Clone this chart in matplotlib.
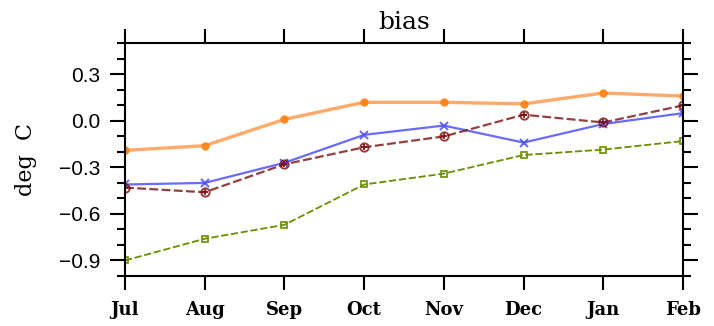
import numpy as np
import matplotlib.pyplot as plt
from matplotlib.ticker import MultipleLocator

plt.rcParams['font.family'] = ['DejaVu Serif']

months = ['Jul', 'Aug', 'Sep', 'Oct', 'Nov', 'Dec', 'Jan', 'Feb']
orange_vals = [-0.19, -0.16, 0.01, 0.12, 0.12, 0.11, 0.18, 0.16]
blue_vals = [-0.41, -0.40, -0.27, -0.09, -0.03, -0.14, -0.02, 0.05]
red_vals = [-0.43, -0.46, -0.28, -0.17, -0.10, 0.04, -0.01, 0.10]
green_vals = [-0.90, -0.76, -0.67, -0.41, -0.34, -0.22, -0.185, -0.13]
ytick_vals = [-0.9, -0.6, -0.3, 0.0, 0.3]

fig = plt.figure(figsize=(7.14, 3.26), dpi=100)
ax = fig.add_axes([0.175, 0.1534, 0.7816, 0.7136])
x = np.arange(len(months))

# four series, NCL-ish look
ax.plot(x, orange_vals, color='#ff9a50', lw=2.4, alpha=0.85, marker='o', ms=5, mfc='#ff7f0e', mec='#ff7f0e')
ax.plot(x, blue_vals, color='#5050ff', lw=1.6, alpha=0.85, marker='x', ms=6, mew=1.5)
ax.plot(x, red_vals, color='#7a1010', lw=1.6, ls=(0, (4, 1.5)), alpha=0.8, marker='o', ms=6, mfc='none', mew=1.4)
ax.plot(x, red_vals, ls='none', color='#7a1010', marker='+', ms=5, mew=1.2)
ax.plot(x, green_vals, color='#6b8e00', lw=1.3, ls=(0, (4, 1.5)), marker='s', ms=5, mfc='none', mew=1.2)

ax.set_xlim(0, len(months) - 1)
ax.set_ylim(-1.0, 0.5)
ax.set_xticks(x)
ax.set_xticklabels(months, fontsize=13, fontweight='bold')
ax.set_yticks(ytick_vals)
ax.set_yticklabels([f'{v:.1f}'.replace('-', '\u2212') for v in ytick_vals],
                   fontsize=15, family='Liberation Sans')
ax.yaxis.set_minor_locator(MultipleLocator(0.1))

ax.tick_params(axis='both', which='both', direction='out', top=True, right=True, width=1.5)
ax.tick_params(axis='x', which='major', length=10, pad=8)
ax.tick_params(axis='y', which='major', length=10.5, pad=7)
ax.tick_params(axis='y', which='minor', length=6, width=1.5)
for s in ax.spines.values():
    s.set_linewidth(1.5)

ax.set_ylabel('deg  C', fontsize=16)
ax.yaxis.set_label_coords(-0.158, 0.5)
ax.set_title('bias', fontsize=18, pad=10)

fig.savefig('out.png', dpi=100)
